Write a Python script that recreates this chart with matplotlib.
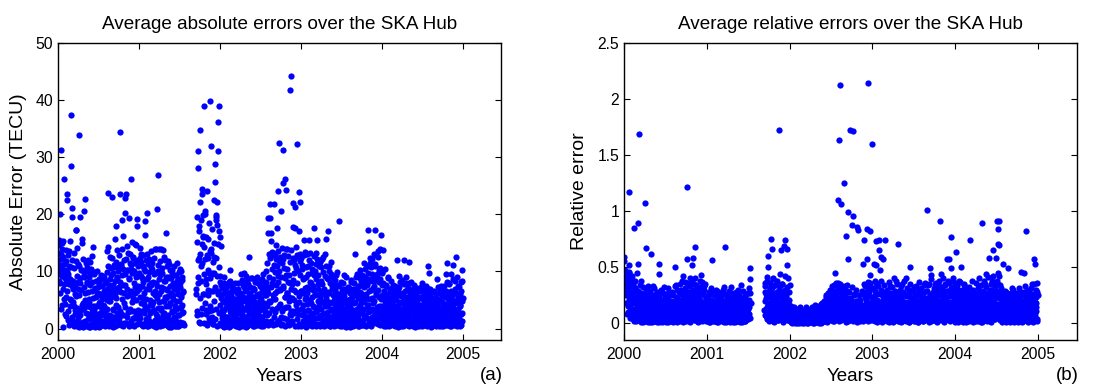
import numpy as np
import matplotlib
matplotlib.use("Agg")
import matplotlib.pyplot as plt

NAN = float("nan")

# ---- data: daily values; *_even = even days (0,2,4,...), *_odd = odd days (1,3,5,...) ----
years = [2000, 2001, 2002, 2003, 2004]

abs_2000_even = [
    13.2, 11.0, 8.4, 15.5, 10.6, 20.0, 12.1, 31.3, 9.2, 4.1, 14.0, 0.3, 15.4, 26.2, 7.8,
    10.2, 2.5, 8.0, 5.6, 11.8, 23.6, 22.5, 3.0, 9.6, 13.5, 0.6, 5.2, 15.4, 8.3, 37.3,
    28.5, 21.1, 19.6, 1.4, 6.9, 13.2, 4.0, 0.9, 7.4, 2.6, 17.3, 17.2, 3.6, 14.1, 8.1,
    1.8, 11.3, 33.9, 0.2, 19.6, 7.9, 3.2, 0.5, 10.2, 15.7, 15.0, 4.5, 1.1, 9.0, 20.5,
    22.7, 6.3, 11.5, 0.4, 2.8, 10.8, 8.2, 1.6, 12.0, 5.1, 0.3, 9.5, 3.7, 11.6, 2.2,
    0.8, 6.6, 12.7, 14.3, 4.0, 1.2, 9.9, 3.3, 0.4, 7.1, 5.5, 2.0, 10.0, 0.6, 3.9,
    6.2, 1.5, 8.7, 0.3, 4.6, 2.7, 9.3, 0.8, 5.8, 3.0, 7.4, 1.0, 4.2, 9.1, 2.3,
    0.5, 6.0, 3.5, 8.3, 1.7, 5.0, 13.6, 23.7, 14.2, 2.4, 7.7, 0.9, 12.5, 4.8, 10.6,
    1.9, 6.8, 23.0, 3.4, 9.8, 0.3, 11.2, 7.0, 2.1, 15.6, 5.3, 17.9, 0.7, 8.9, 13.8,
    3.8, 10.9, 1.3, 7.3, 34.4, 23.5, 6.4, 11.0, 2.6, 19.0, 9.4, 0.4, 16.2, 4.4, 12.0,
    7.6, 20.2, 22.8, 1.0, 23.5, 10.3, 5.7, 13.2, 2.9, 19.3, 8.6, 0.6, 11.5, 6.1, 26.1,
    3.1, 9.7, 15.1, 1.8, 12.4, 5.4, 10.1, 0.5, 14.8, 7.2, 2.4, 9.0, 18.0, 6.5, 19.2,
    3.3, 11.0, 1.2,
]
abs_2000_odd = [
    12.0, 9.5, 14.6, 6.3, 11.2, 8.0, 13.0, 3.5, 10.4, 15.0, 7.0, 12.5, 5.2, 9.8, 11.3,
    4.3, 8.9, 13.7, 2.2, 10.0, 6.5, 9.1, 12.8, 1.5, 7.8, 11.0, 3.9, 8.6, 5.0, 10.8,
    7.5, 2.0, 12.0, 4.6, 8.3, 0.5, 10.6, 3.3, 6.1, 11.8, 1.2, 5.7, 9.2, 0.4, 7.0,
    3.0, 11.0, 5.9, 0.9, 8.8, 2.4, 10.3, 6.7, 1.0, 4.1, 12.2, 0.3, 7.3, 3.6, 9.4,
    5.0, 1.3, 10.1, 3.9, 8.0, 0.6, 6.4, 11.9, 2.6, 9.0, 4.7, 0.2, 7.7, 1.8, 10.4,
    2.9, 8.1, 0.5, 5.4, 3.2, 9.6, 1.1, 6.8, 4.0, 0.3, 8.4, 2.5, 5.9, 1.4, 7.2,
    0.9, 4.4, 7.9, 2.1, 6.0, 0.4, 3.8, 8.6, 1.3, 5.1, 2.6, 9.2, 0.7, 6.6, 4.0,
    8.0, 2.7, 5.6, 0.6, 9.9, 3.5, 7.0, 1.6, 11.0, 4.9, 0.4, 8.7, 6.2, 2.2, 9.4,
    5.5, 12.3, 0.8, 7.6, 3.2, 10.7, 1.5, 8.3, 6.0, 0.5, 11.6, 4.1, 9.0, 2.7, 7.1,
    10.0, 1.8, 6.5, 12.9, 3.0, 8.1, 0.6, 11.3, 5.2, 14.0, 2.3, 7.7, 10.5, 1.0, 6.3,
    9.6, 3.7, 12.1, 0.9, 7.0, 14.5, 2.0, 10.2, 5.8, 0.5, 8.9, 13.0, 3.4, 11.1, 6.6,
    1.4, 10.3, 4.6, 12.6, 0.7, 8.0, 3.0, 11.5, 6.3, 1.9, 14.7, 5.0, 9.2, 0.8, 12.0,
    7.4, 2.6,
]

abs_2001_even = [
    9.8, 2.0, 14.1, 5.6, 0.8, 11.7, 7.4, 3.0, 12.8, 0.5, 8.2, 4.3, 10.5, 16.4, 18.8,
    1.7, 6.9, 13.0, 20.2, 3.5, 9.1, 0.4, 7.6, 12.2, 2.8, 5.0, 10.7, 1.1, 8.0, 4.1,
    11.4, 0.7, 6.3, 3.2, 9.5, 1.5, 13.9, 5.8, 0.3, 7.9, 20.9, 2.2, 10.1, 26.8, 4.6,
    14.0, 8.7, 1.0, 11.9, 3.6, 6.5, 0.6, 9.7, 13.8, 2.5, 7.1, 4.9, 12.6, 0.9, 8.4,
    5.3, 16.7, 2.0, 10.9, 6.7, 0.4, 9.0, 3.9, 11.3, 1.4, 7.4, 4.4, 0.2, 8.8, 2.9,
    10.2, 5.9, 0.8, 6.9, 3.1, 9.4, 1.7, 7.8, 0.5, 4.8, 8.3, 11.5, 2.3, 6.1, 0.4,
    9.9, 3.6, 7.2, 1.2, 5.5, 10.0, 2.7, 8.5, 4.2, 0.9, 6.4,
] + [NAN] * 28 + [
    6.0, 3.0, 19.5, 8.0, 28.1, 31.0,
    17.9, 12.3, 34.8, 22.1, 2.5, 10.9, 24.4, 23.5, 14.8, 19.9, 16.0, 39.0, 6.1, 20.5, 12.2,
    3.3, 16.0, 8.6, 24.0, 0.9, 12.4, 6.7, 1.8, 9.7, 3.9, 13.6, 39.8, 31.9, 13.9, 9.5,
    3.3, 6.6, 0.8, 12.6, 9.8, 22.5, 28.8, 25.7, 19.5, 19.0, 18.2, 22.2, 6.5, 36.2, 31.0,
    39.0, 17.1, 16.1,
]
abs_2001_odd = [
    7.0, 12.3, 1.9, 9.2, 4.5, 13.1, 0.6, 8.8, 5.4, 11.0, 2.7, 6.3, 0.9, 10.0, 3.8,
    12.0, 5.1, 0.4, 8.6, 2.0, 11.3, 6.9, 1.3, 9.9, 4.2, 0.7, 7.7, 13.5, 3.1, 10.4,
    1.0, 8.2, 4.7, 12.4, 0.5, 6.6, 9.8, 2.5, 14.0, 5.3, 0.8, 7.4, 3.6, 11.1, 1.9,
    6.0, 0.4, 9.4, 3.3, 13.9, 7.2, 1.6, 10.6, 4.9, 0.6, 8.3, 2.8, 12.0, 5.6, 1.2,
    9.1, 3.9, 0.7, 7.0, 11.8, 2.3, 5.7, 0.3, 8.9, 4.5, 10.3, 1.5, 6.2, 3.0, 9.6,
    0.8, 5.2, 8.0, 2.1, 11.0, 4.0, 0.5, 7.5, 3.4, 9.3, 1.1, 6.7, 0.4, 8.6, 4.8,
    2.4, 7.9, 0.6, 10.4, 3.7, 5.9, 1.0, 9.1, 2.9, 6.5, 0.7,
] + [NAN] * 28 + [
    7.0, 15.2, 2.3, 12.0, 9.1, 1.2, 17.0, 5.3, 13.0, 0.9, 8.4, 19.0, 3.6, 11.5, 6.0,
    16.2, 1.0, 9.6, 14.3, 4.4, 20.1, 7.8, 2.5, 12.9, 0.6, 10.3, 15.6, 5.8, 3.0, 18.4,
    8.9, 1.4, 13.2, 6.6, 17.5, 2.0, 9.8, 0.8, 11.7, 4.9, 15.0, 7.3, 1.6, 12.4, 19.8,
    3.4, 9.2, 0.5, 14.8, 6.0, 10.7, 2.8, 8.1,
]

abs_2002_even = [
    9.2, 1.0, 5.4, 14.4, 2.6, 7.1, 0.4, 4.8, 9.0, 3.2, 1.5, 6.3, 0.8, 5.0, 2.1,
    7.4, 0.5, 3.8, 6.0, 1.3, 4.6, 0.3, 8.3, 10.3, 2.7, 5.6, 0.9, 3.5, 6.8, 1.9,
    4.2, 0.6, 7.0, 2.4, 5.2, 1.1, 3.0, 6.5, 0.4, 4.5, 8.0, 1.6, 2.9, 5.8, 0.7,
    3.7, 6.2, 1.4, 9.6, 2.2, 4.9, 0.5, 7.6, 3.3, 1.0, 9.8, 5.3, 2.0, 0.3, 6.7,
    3.9, 1.7, 8.4, 4.0, 0.6, 5.9, 12.6, 2.5, 7.2, 0.9, 4.4, 2.8, 8.8, 1.2, 5.5,
    3.1, 0.4, 6.9, 2.3, 4.7, 8.1, 1.5, 5.7, 0.8, 3.4, 7.9, 2.6, 6.0, 1.0, 4.3,
    7.5, 0.6, 3.6, 5.1, 2.0, 8.6, 1.3, 6.4, 0.5, 4.1, 7.0, 3.0, 1.1, 10.0, 5.8,
    2.4, 6.6, 0.9, 16.7, 19.3, 4.9, 7.3, 21.8, 19.3, 16.7, 15.3, 1.4, 13.4, 8.0, 5.2,
    0.7, 11.1, 21.8, 6.2, 13.0, 2.9, 12.2, 7.7, 1.2, 17.6, 24.0, 9.2, 4.0, 11.8, 32.5,
    6.8, 12.6, 20.5, 2.1, 11.4, 0.8, 31.2, 25.5, 7.1, 3.6, 12.8, 5.5, 26.2, 9.4, 24.2,
    1.6, 6.3, 14.0, 3.8, 8.1, 0.9, 5.6, 2.5, 41.8, 6.9, 3.0, 44.2, 7.8, 1.4, 22.0,
    17.8, 5.0, 12.0, 17.6, 21.3, 2.7, 10.6, 6.4, 3.2, 32.3, 12.5, 0.4, 23.9, 17.0, 4.6,
    11.9, 22.2, 6.6,
]
abs_2002_odd = [
    4.1, 7.6, 0.7, 3.3, 6.1, 1.8, 5.0, 2.4, 8.0, 0.3, 4.7, 6.9, 1.2, 3.8, 7.2,
    2.0, 5.5, 0.6, 4.3, 8.2, 1.5, 6.4, 3.1, 0.4, 5.9, 2.6, 7.4, 1.0, 4.9, 3.4,
    6.7, 0.9, 5.1, 2.2, 7.9, 3.6, 0.5, 6.2, 1.7, 4.4, 2.8, 7.0, 0.3, 5.4, 3.0,
    1.3, 6.0, 4.0, 0.6, 8.5, 2.5, 5.6, 1.9, 7.3, 3.5, 0.8, 4.8, 6.6, 2.1, 9.2,
    0.5, 5.0, 3.2, 7.8, 1.4, 4.6, 2.7, 0.9, 6.3, 3.9, 8.9, 1.6, 5.2, 0.4, 7.1,
    2.9, 6.8, 1.1, 4.1, 8.7, 0.6, 3.7, 5.8, 2.3, 9.0, 0.7, 4.5, 6.1, 1.8, 3.3,
    5.3, 2.0, 8.3, 0.5, 6.9, 3.8, 1.4, 9.5, 4.4, 0.8, 7.6, 2.6, 5.9, 1.3, 8.1,
    3.9, 11.5, 0.6, 6.3, 13.0, 2.8, 9.1, 4.7, 12.4, 0.9, 7.2, 10.5, 3.4, 5.8, 13.3,
    8.6, 2.0, 12.8, 5.1, 9.9, 0.8, 14.6, 6.5, 11.0, 3.6, 8.2, 13.5, 1.5, 10.1, 6.9,
    4.3, 11.9, 0.7, 9.0, 14.1, 3.0, 7.5, 12.2, 1.9, 10.6, 5.5, 0.5, 8.8, 13.9, 3.7,
    10.4, 6.2, 1.1, 12.7, 4.8, 9.3, 0.6, 7.9, 11.6, 2.4, 13.8, 5.4, 0.9, 8.5, 12.3,
    3.1, 9.7, 6.8, 0.4, 11.2, 4.2, 14.3, 1.7, 8.0, 12.9, 2.6, 10.0, 5.7, 0.8, 9.4,
    13.1, 3.5,
]

abs_2003_even = [
    0.5, 12.4, 3.5, 10.5, 6.2, 1.3, 15.5, 8.8, 2.2, 13.4, 5.1, 0.3, 9.0, 4.3, 7.2,
    1.6, 11.0, 15.5, 3.0, 6.9, 0.8, 13.3, 8.0, 2.5, 10.4, 5.6, 0.6, 7.4, 4.0, 17.6,
    9.3, 1.8, 6.0, 11.3, 2.9, 13.3, 15.5, 0.7, 7.8, 4.8, 10.9, 2.0, 5.3, 11.6, 0.4,
    8.4, 3.4, 6.6, 12.1, 1.5, 9.9, 4.6, 0.9, 7.0, 2.7, 13.1, 5.8, 15.7, 1.2, 3.9,
    17.1, 8.6, 2.1, 6.3, 11.0, 0.5, 4.5, 9.6, 1.9, 7.5, 3.2, 0.8, 5.9, 8.9, 2.6,
    0.4, 6.8, 3.8, 1.4, 9.4, 5.2, 0.6, 3.1, 7.7, 2.0, 18.9, 4.7, 0.9, 6.1, 2.8,
    5.4, 1.2, 3.6, 0.5, 7.0, 2.3, 4.9, 0.8, 9.4, 3.3, 1.6, 6.5, 0.3, 4.1, 2.5,
    7.3, 0.7, 5.0, 2.9, 1.1, 6.2, 3.7, 0.4, 8.2, 2.0, 5.6, 1.3, 7.0, 3.0, 0.6,
    4.4, 13.1, 2.2, 6.9, 0.9, 9.0, 3.5, 5.8, 1.5, 7.4, 2.7, 0.5, 10.2, 4.2, 6.4,
    1.0, 8.3, 3.1, 5.3, 0.7, 7.9, 2.4, 11.5, 4.6, 1.8, 9.1, 6.0, 0.4, 3.7, 7.6,
    17.3, 2.9, 8.7, 15.1, 5.1, 1.2, 11.4, 6.7, 0.6, 9.5, 3.4, 12.2, 7.1, 2.0, 8.4,
    4.9, 17.3, 10.9, 1.5, 6.3, 12.9, 3.0, 9.0, 0.8, 13.6, 5.5, 8.1, 2.3, 10.6, 13.9,
    4.0, 16.3, 7.7,
]
abs_2003_odd = [
    6.6, 2.3, 11.1, 4.1, 0.6, 8.7, 12.9, 3.0, 7.1, 1.0, 10.8, 5.5, 2.0, 13.0, 6.2,
    9.5, 3.3, 0.7, 12.0, 5.0, 8.2, 1.6, 11.4, 4.5, 0.4, 9.8, 6.7, 2.8, 12.7, 3.8,
    1.2, 10.0, 5.9, 0.5, 8.6, 3.2, 12.2, 7.0, 1.9, 9.3, 4.1, 0.8, 11.8, 6.0, 2.4,
    10.7, 4.6, 1.0, 7.8, 12.5, 2.6, 6.1, 0.5, 9.2, 3.9, 11.0, 1.7, 5.4, 8.8, 0.7,
    6.4, 2.9, 10.1, 4.7, 0.4, 8.0, 1.8, 11.6, 3.5, 6.9, 0.9, 9.1, 2.2, 5.0, 7.7,
    1.5, 4.3, 8.5, 0.6, 6.2, 2.7, 9.9, 3.6, 0.8, 5.3, 1.9, 7.4, 4.0, 0.5, 8.1,
    3.0, 6.6, 0.7, 4.5, 2.0, 8.0, 1.1, 5.7, 3.4, 0.4, 6.9, 2.5, 9.0, 1.3, 4.8,
    0.6, 3.9, 7.1, 1.6, 5.2, 0.3, 4.4, 2.6, 8.5, 1.0, 6.3, 3.3, 0.5, 5.8, 2.1,
    7.9, 1.4, 4.6, 0.8, 6.5, 3.1, 9.6, 2.0, 5.4, 0.4, 7.5, 3.8, 1.2, 8.8, 4.9,
    2.7, 6.0, 0.6, 9.3, 3.5, 1.5, 7.2, 4.8, 10.4, 2.2, 0.7, 8.1, 5.6, 1.8, 11.0,
    4.2, 9.7, 1.0, 6.6, 12.4, 3.1, 8.3, 0.5, 10.8, 5.3, 2.0, 9.1, 4.5, 13.0, 1.3,
    7.4, 2.5, 11.3, 5.9, 0.9, 9.6, 3.8, 12.6, 6.8, 1.6, 10.2, 4.0, 0.6, 8.7, 5.1,
    2.1, 9.9,
]

abs_2004_even = [
    3.1, 9.7, 13.8, 1.2, 5.6, 0.5, 10.5, 4.3, 2.0, 7.4, 0.8, 6.0, 3.5, 1.6, 8.8,
    2.7, 5.1, 0.4, 7.0, 3.8, 1.1, 6.4, 2.2, 4.6, 0.6, 7.6, 3.0, 1.4, 5.3, 0.9,
    4.0, 2.5, 6.8, 1.0, 12.0, 3.4, 0.3, 5.8, 2.1, 7.2, 4.4, 0.7, 3.1, 6.1, 1.8,
    8.5, 2.8, 4.9, 0.5, 12.0, 3.6, 1.3, 6.6, 2.4, 8.0, 0.9, 4.1, 5.5, 1.7, 3.2,
    7.9, 11.6, 0.6, 4.7, 2.3, 6.2, 1.0, 3.7, 5.0, 0.4, 2.9, 7.0, 1.5, 4.3, 6.5,
    0.8, 3.3, 5.9, 2.0, 0.5, 4.6, 6.9, 1.2, 3.0, 5.4, 0.7, 2.6, 4.0, 7.3, 1.6,
    3.6, 0.4, 5.7, 2.2, 4.8, 1.1, 3.4, 6.4, 0.6, 2.7, 5.0, 1.5, 7.1, 3.9, 10.9,
    9.8, 0.9, 4.2, 2.1, 6.0, 0.3, 3.5, 5.2, 1.4, 2.4, 4.5, 0.7, 6.6, 3.0, 1.8,
    5.3, 0.5, 2.8, 4.0, 8.6, 1.0, 3.7, 6.2, 0.8, 2.2, 5.0, 1.6, 3.3, 0.4, 7.5,
    2.5, 4.6, 0.9, 6.8, 1.9, 3.8, 0.6, 5.6, 2.9, 9.6, 1.3, 11.5, 4.1, 0.7, 6.0,
    3.0, 1.5, 8.0, 4.8, 0.5, 2.6, 9.5, 5.7, 1.1, 11.2, 3.6, 0.8, 6.3, 2.0, 4.4,
    8.3, 12.5, 1.7, 5.0, 0.4, 3.2, 7.4, 2.4, 4.7, 0.9, 6.1, 1.4, 3.9, 8.2, 0.6,
    10.2, 2.8, 5.3,
]
abs_2004_odd = [
    5.8, 1.9, 8.0, 3.6, 0.7, 6.6, 2.8, 4.9, 0.4, 7.7, 3.1, 1.5, 5.5, 9.0, 2.3,
    0.6, 4.4, 6.9, 1.8, 3.3, 8.4, 0.9, 5.6, 2.6, 7.1, 1.2, 4.0, 6.3, 0.5, 3.0,
    7.5, 1.6, 5.0, 2.9, 0.8, 6.7, 3.8, 9.2, 1.0, 4.6, 2.2, 8.1, 0.4, 5.7, 3.5,
    1.1, 6.3, 2.7, 4.4, 0.6, 7.8, 3.0, 5.3, 1.5, 9.0, 2.0, 6.8, 0.7, 4.7, 7.2,
    2.5, 0.5, 5.9, 3.4, 8.2, 1.3, 4.6, 6.6, 0.8, 3.1, 5.4, 1.9, 7.6, 0.3, 4.1,
    6.0, 2.2, 4.9, 0.9, 7.1, 3.6, 1.4, 5.6, 2.8, 0.5, 6.5, 4.2, 1.0, 3.7, 8.0,
    1.7, 5.1, 0.6, 3.2, 6.7, 2.4, 4.5, 0.8, 7.4, 1.9, 3.9, 5.9, 0.4, 2.7, 6.2,
    4.8, 1.2, 3.4, 7.0, 0.5, 5.3, 2.2, 4.1, 0.9, 6.4, 3.0, 1.6, 5.0, 0.6, 3.7,
    2.0, 6.1, 0.7, 4.4, 1.3, 7.2, 2.9, 0.4, 5.2, 3.5, 1.0, 6.9, 2.4, 4.7, 0.8,
    5.9, 1.9, 3.8, 0.5, 7.4, 2.7, 4.3, 1.1, 6.5, 3.3, 0.7, 8.1, 2.1, 5.1, 0.9,
    3.6, 7.8, 1.4, 5.0, 2.6, 0.5, 6.6, 3.9, 1.7, 8.6, 4.8, 0.6, 2.8, 7.0, 1.2,
    4.5, 0.7, 6.2, 2.3, 9.1, 3.4, 0.9, 5.5, 1.8, 7.3, 0.4, 4.2, 6.6, 2.6, 8.4,
    1.3, 4.9,
]

rel_2000_even = [
    0.55, 0.59, 0.38, 0.44, 0.25, 0.35, 0.08, 0.42, 0.30, 0.15, 0.46, 0.52, 1.17, 0.22, 0.05,
    0.33, 0.40, 0.12, 0.28, 0.18, 0.36, 0.845, 0.02, 0.23, 0.10, 0.31, 0.06, 0.20, 0.14, 0.45,
    0.53, 0.89, 1.69, 0.09, 0.22, 0.03, 0.16, 0.38, 0.07, 0.25, 0.12, 0.01, 0.19, 0.05, 0.13,
    0.21, 1.075, 0.04, 0.17, 0.667, 0.10, 0.02, 0.33, 0.14, 0.06, 0.27, 0.09, 0.01, 0.20, 0.08,
    0.616, 0.12, 0.03, 0.25, 0.07, 0.15, 0.31, 0.02, 0.11, 0.19, 0.05, 0.26, 0.09, 0.01, 0.14,
    0.06, 0.22, 0.53, 0.44, 0.03, 0.17, 0.29, 0.08, 0.12, 0.01, 0.20, 0.05, 0.15, 0.32, 0.04,
    0.10, 0.24, 0.02, 0.18, 0.07, 0.13, 0.01, 0.21, 0.09, 0.28, 0.04, 0.16, 0.06, 0.11, 0.02,
    0.19, 0.08, 0.14, 0.03, 0.25, 0.12, 0.05, 0.50, 0.17, 0.09, 0.34, 0.01, 0.22, 0.07, 0.15,
    0.04, 0.28, 0.11, 0.18, 0.02, 0.30, 0.08, 0.20, 0.13, 0.06, 0.24, 0.42, 0.03, 0.16, 0.37,
    0.10, 0.27, 0.05, 0.19, 1.21, 0.57, 0.14, 0.33, 0.02, 0.23, 0.09, 0.40, 0.17, 0.06, 0.29,
    0.12, 0.52, 0.21, 0.58, 0.04, 0.35, 0.68, 0.15, 0.25, 0.08, 0.31, 0.02, 0.19, 0.11, 0.26,
    0.06, 0.22, 0.14, 0.38, 0.03, 0.43, 0.18, 0.09, 0.27, 0.05, 0.16, 0.33, 0.07, 0.24, 0.12,
    0.02, 0.20, 0.08,
]
rel_2000_odd = [
    0.40, 0.28, 0.47, 0.33, 0.18, 0.43, 0.25, 0.37, 0.10, 0.31, 0.21, 0.45, 0.14, 0.39, 0.27,
    0.09, 0.35, 0.19, 0.42, 0.04, 0.26, 0.32, 0.13, 0.38, 0.07, 0.22, 0.30, 0.02, 0.17, 0.24,
    0.11, 0.29, 0.03, 0.20, 0.34, 0.06, 0.15, 0.27, 0.01, 0.23, 0.10, 0.32, 0.04, 0.18, 0.08,
    0.26, 0.02, 0.16, 0.30, 0.07, 0.21, 0.11, 0.01, 0.24, 0.13, 0.05, 0.19, 0.29, 0.03, 0.15,
    0.09, 0.22, 0.01, 0.17, 0.33, 0.06, 0.12, 0.25, 0.02, 0.20, 0.10, 0.04, 0.28, 0.14, 0.07,
    0.18, 0.01, 0.24, 0.11, 0.05, 0.30, 0.15, 0.02, 0.21, 0.08, 0.27, 0.13, 0.03, 0.19, 0.10,
    0.04, 0.16, 0.26, 0.01, 0.12, 0.22, 0.07, 0.31, 0.03, 0.17, 0.09, 0.25, 0.02, 0.14, 0.20,
    0.06, 0.28, 0.11, 0.01, 0.19, 0.08, 0.33, 0.14, 0.04, 0.23, 0.10, 0.02, 0.30, 0.16, 0.05,
    0.21, 0.12, 0.35, 0.03, 0.17, 0.26, 0.07, 0.38, 0.10, 0.01, 0.29, 0.14, 0.22, 0.05, 0.31,
    0.18, 0.02, 0.24, 0.36, 0.08, 0.13, 0.28, 0.04, 0.20, 0.33, 0.11, 0.01, 0.25, 0.15, 0.37,
    0.07, 0.30, 0.16, 0.03, 0.22, 0.40, 0.10, 0.27, 0.05, 0.34, 0.13, 0.19, 0.01, 0.29, 0.09,
    0.24, 0.04, 0.32, 0.15, 0.20, 0.08, 0.37, 0.02, 0.26, 0.11, 0.30, 0.05, 0.17, 0.35, 0.10,
    0.03, 0.23,
]

rel_2001_even = [
    0.15, 0.04, 0.22, 0.09, 0.01, 0.18, 0.06, 0.12, 0.26, 0.03, 0.31, 0.56, 0.10, 0.20, 0.07,
    0.14, 0.02, 0.25, 0.08, 0.17, 0.30, 0.05, 0.11, 0.21, 0.01, 0.15, 0.06, 0.24, 0.09, 0.13,
    0.03, 0.19, 0.07, 0.28, 0.11, 0.02, 0.16, 0.32, 0.05, 0.20, 0.675, 0.08, 0.13, 0.01, 0.23,
    0.10, 0.04, 0.18, 0.29, 0.07, 0.14, 0.02, 0.22, 0.09, 0.32, 0.05, 0.16, 0.12, 0.01, 0.26,
    0.08, 0.19, 0.03, 0.13, 0.24, 0.06, 0.11, 0.02, 0.17, 0.30, 0.04, 0.15, 0.09, 0.21, 0.01,
    0.12, 0.34, 0.05, 0.18, 0.07, 0.22, 0.03, 0.14, 0.10, 0.25, 0.02, 0.16, 0.06, 0.19, 0.11,
    0.04, 0.27, 0.13, 0.08, 0.21, 0.49, 0.39,
] + [NAN] * 30 + [
    0.12, 0.28, 0.36, 0.06, 0.22, 0.14, 0.38, 0.09,
    0.50, 0.60, 0.25, 0.05, 0.31, 0.18, 0.10, 0.75, 0.66, 0.27, 0.02, 0.39, 0.15, 0.08, 0.22,
    0.34, 0.12, 0.03, 0.20, 0.28, 0.07, 0.16, 0.03, 0.11, 0.25, 1.72, 0.09, 0.33, 0.18, 0.65,
    0.06, 0.14, 0.35, 0.02, 0.23, 0.69, 0.10, 0.74, 0.30, 0.08, 0.17, 0.66, 0.52, 0.12, 0.04,
    0.40, 0.21, 0.07,
]
rel_2001_odd = [
    0.09, 0.24, 0.03, 0.17, 0.28, 0.06, 0.13, 0.01, 0.21, 0.11, 0.04, 0.19, 0.27, 0.08, 0.15,
    0.02, 0.20, 0.10, 0.26, 0.05, 0.14, 0.01, 0.18, 0.29, 0.07, 0.12, 0.22, 0.03, 0.16, 0.25,
    0.06, 0.11, 0.23, 0.02, 0.15, 0.30, 0.08, 0.01, 0.19, 0.12, 0.26, 0.04, 0.17, 0.09, 0.21,
    0.03, 0.14, 0.25, 0.07, 0.18, 0.01, 0.11, 0.23, 0.05, 0.16, 0.27, 0.02, 0.20, 0.10, 0.06,
    0.17, 0.01, 0.13, 0.22, 0.04, 0.28, 0.09, 0.15, 0.02, 0.19, 0.07, 0.25, 0.12, 0.03, 0.18,
    0.08, 0.21, 0.01, 0.14, 0.29, 0.05, 0.17, 0.10, 0.02, 0.23, 0.13, 0.06, 0.26, 0.04, 0.16,
    0.20, 0.09, 0.31, 0.14, 0.05, 0.27, 0.18,
] + [NAN] * 30 + [
    0.20, 0.07, 0.33, 0.13, 0.26, 0.04, 0.41, 0.17, 0.09, 0.29, 0.02, 0.23, 0.36, 0.11, 0.19,
    0.05, 0.31, 0.14, 0.40, 0.08, 0.25, 0.01, 0.18, 0.34, 0.12, 0.27, 0.06, 0.38, 0.15, 0.03,
    0.22, 0.30, 0.10, 0.44, 0.16, 0.04, 0.26, 0.13, 0.35, 0.07, 0.21, 0.01, 0.29, 0.11, 0.42,
    0.18, 0.06, 0.24, 0.14, 0.32, 0.03, 0.20, 0.09, 0.28, 0.16,
]

rel_2002_even = [
    0.34, 0.10, 0.02, 0.15, 0.06, 0.01, 0.12, 0.04, 0.08, 0.02, 0.14, 0.05, 0.00, 0.09, 0.03,
    0.11, 0.01, 0.06, 0.13, 0.03, 0.08, 0.00, 0.05, 0.10, 0.02, 0.07, 0.12, 0.01, 0.04, 0.09,
    0.03, 0.06, 0.00, 0.11, 0.05, 0.02, 0.08, 0.14, 0.01, 0.04, 0.07, 0.00, 0.10, 0.03, 0.06,
    0.02, 0.09, 0.13, 0.04, 0.01, 0.07, 0.11, 0.03, 0.05, 0.00, 0.08, 0.16, 0.02, 0.06, 0.10,
    0.04, 0.01, 0.12, 0.07, 0.03, 0.09, 0.15, 0.02, 0.05, 0.11, 0.00, 0.08, 0.18, 0.04, 0.06,
    0.13, 0.02, 0.20, 0.07, 0.10, 0.04, 0.25, 0.09, 0.01, 0.15, 0.06, 0.22, 0.03, 0.12, 0.18,
    0.08, 0.30, 0.05, 0.14, 0.26, 0.02, 0.19, 0.34, 0.10, 0.06, 0.45, 0.23, 0.12, 0.04, 0.28,
    0.16, 0.36, 1.10, 0.09, 0.21, 1.63, 2.12, 0.31, 1.06, 0.03, 0.18, 0.27, 0.12, 0.07, 0.24,
    1.25, 0.14, 0.33, 0.05, 0.78, 0.20, 0.10, 0.29, 0.02, 0.57, 0.99, 0.16, 0.08, 1.72, 0.22,
    0.13, 0.04, 0.875, 0.19, 0.11, 1.71, 0.955, 0.25, 0.06, 0.17, 0.09, 0.14, 0.03, 0.86, 0.20,
    0.83, 0.07, 0.12, 0.05, 0.18, 0.10, 0.03, 0.08, 0.15, 0.06, 0.11, 0.02, 0.26, 0.53, 0.74,
    0.09, 0.33, 0.16, 0.04, 0.21, 0.57, 0.84, 0.12, 0.37, 2.14, 0.28, 0.07, 0.82, 0.43, 0.18,
    0.05, 1.595, 0.31,
]
rel_2002_odd = [
    0.05, 0.12, 0.01, 0.08, 0.03, 0.10, 0.00, 0.06, 0.13, 0.02, 0.07, 0.04, 0.11, 0.01, 0.09,
    0.03, 0.07, 0.00, 0.12, 0.05, 0.02, 0.09, 0.04, 0.14, 0.01, 0.06, 0.10, 0.03, 0.00, 0.08,
    0.11, 0.02, 0.05, 0.09, 0.01, 0.13, 0.04, 0.07, 0.00, 0.10, 0.03, 0.06, 0.12, 0.02, 0.08,
    0.04, 0.11, 0.01, 0.07, 0.14, 0.03, 0.09, 0.00, 0.05, 0.12, 0.02, 0.08, 0.04, 0.15, 0.01,
    0.09, 0.03, 0.06, 0.13, 0.00, 0.10, 0.05, 0.02, 0.17, 0.07, 0.04, 0.12, 0.01, 0.09, 0.14,
    0.06, 0.19, 0.03, 0.11, 0.08, 0.23, 0.02, 0.16, 0.05, 0.27, 0.12, 0.04, 0.20, 0.09, 0.30,
    0.15, 0.03, 0.22, 0.11, 0.33, 0.07, 0.18, 0.02, 0.29, 0.13, 0.06, 0.24, 0.36, 0.10, 0.19,
    0.05, 0.31, 0.14, 0.22, 0.02, 0.35, 0.10, 0.18, 0.27, 0.06, 0.33, 0.13, 0.21, 0.04, 0.16,
    0.30, 0.09, 0.24, 0.01, 0.19, 0.12, 0.34, 0.06, 0.22, 0.15, 0.03, 0.28, 0.11, 0.18, 0.05,
    0.21, 0.08, 0.15, 0.32, 0.02, 0.17, 0.10, 0.26, 0.04, 0.12, 0.20, 0.07, 0.30, 0.14, 0.01,
    0.18, 0.05, 0.25, 0.11, 0.02, 0.14, 0.21, 0.06, 0.09, 0.29, 0.03, 0.16, 0.12, 0.35, 0.08,
    0.23, 0.04, 0.15, 0.28, 0.10, 0.06, 0.19, 0.31, 0.02, 0.13, 0.24, 0.08, 0.17, 0.36, 0.11,
    0.03, 0.22,
]

rel_2003_even = [
    0.10, 0.22, 0.03, 0.53, 0.14, 0.38, 0.07, 0.19, 0.73, 0.52, 0.01, 0.26, 0.12, 0.04, 0.74,
    0.65, 0.18, 0.47, 0.09, 0.30, 0.59, 0.02, 0.15, 0.23, 0.57, 0.06, 0.12, 0.74, 0.20, 0.03,
    0.28, 0.10, 0.17, 0.04, 0.25, 0.13, 0.01, 0.21, 0.08, 0.33, 0.15, 0.05, 0.19, 0.11, 0.02,
    0.24, 0.07, 0.40, 0.14, 0.03, 0.18, 0.09, 0.27, 0.38, 0.05, 0.12, 0.20, 0.71, 0.02, 0.16,
    0.08, 0.30, 0.11, 0.01, 0.22, 0.06, 0.35, 0.14, 0.03, 0.19, 0.09, 0.26, 0.04, 0.13, 0.40,
    0.02, 0.17, 0.07, 0.24, 0.10, 0.01, 0.29, 0.15, 0.05, 0.50, 0.12, 0.20, 0.03, 0.09, 0.18,
    0.06, 0.23, 0.11, 0.32, 0.02, 0.14, 0.08, 0.19, 0.04, 0.27, 0.12, 0.01, 0.16, 0.30, 0.07,
    0.21, 0.10, 0.03, 0.15, 0.25, 0.06, 0.18, 0.02, 0.12, 0.34, 0.08, 0.20, 0.05, 0.14, 0.29,
    1.01, 0.11, 0.04, 0.22, 0.17, 0.07, 0.35, 0.13, 0.49, 0.43, 0.02, 0.26, 0.09, 0.19, 0.05,
    0.31, 0.12, 0.24, 0.03, 0.16, 0.36, 0.08, 0.21, 0.01, 0.14, 0.28, 0.06, 0.33, 0.18, 0.91,
    0.10, 0.25, 0.44, 0.04, 0.20, 0.13, 0.30, 0.07, 0.17, 0.02, 0.35, 0.11, 0.23, 0.05, 0.57,
    0.15, 0.29, 0.09, 0.38, 0.03, 0.57, 0.19, 0.12, 0.765, 0.49, 0.25, 0.06, 0.40, 0.14, 0.32,
    0.08, 0.21, 0.01,
]
rel_2003_odd = [
    0.17, 0.31, 0.05, 0.24, 0.12, 0.02, 0.29, 0.09, 0.36, 0.15, 0.06, 0.21, 0.33, 0.08, 0.18,
    0.03, 0.26, 0.11, 0.38, 0.07, 0.20, 0.14, 0.01, 0.28, 0.10, 0.34, 0.05, 0.22, 0.16, 0.08,
    0.19, 0.02, 0.30, 0.12, 0.06, 0.24, 0.09, 0.37, 0.15, 0.03, 0.27, 0.11, 0.20, 0.05, 0.32,
    0.13, 0.01, 0.21, 0.08, 0.29, 0.16, 0.04, 0.25, 0.10, 0.35, 0.06, 0.18, 0.02, 0.23, 0.12,
    0.27, 0.05, 0.17, 0.33, 0.09, 0.20, 0.02, 0.14, 0.28, 0.07, 0.38, 0.11, 0.16, 0.03, 0.24,
    0.10, 0.31, 0.06, 0.19, 0.13, 0.01, 0.26, 0.08, 0.35, 0.15, 0.04, 0.22, 0.12, 0.30, 0.06,
    0.17, 0.02, 0.28, 0.10, 0.21, 0.05, 0.33, 0.13, 0.07, 0.25, 0.01, 0.18, 0.37, 0.09, 0.15,
    0.04, 0.23, 0.12, 0.31, 0.06, 0.19, 0.02, 0.27, 0.10, 0.16, 0.36, 0.03, 0.22, 0.13, 0.08,
    0.29, 0.14, 0.05, 0.34, 0.18, 0.01, 0.25, 0.11, 0.20, 0.07, 0.39, 0.15, 0.03, 0.28, 0.12,
    0.06, 0.22, 0.35, 0.09, 0.17, 0.02, 0.30, 0.13, 0.24, 0.04, 0.19, 0.38, 0.10, 0.26, 0.07,
    0.16, 0.32, 0.03, 0.21, 0.12, 0.40, 0.08, 0.27, 0.01, 0.18, 0.34, 0.11, 0.06, 0.23, 0.14,
    0.29, 0.05, 0.19, 0.36, 0.10, 0.24, 0.02, 0.31, 0.15, 0.07, 0.27, 0.12, 0.38, 0.04, 0.20,
    0.13, 0.30,
]

rel_2004_even = [
    0.18, 0.36, 0.05, 0.63, 0.24, 0.10, 0.30, 0.02, 0.15, 0.38, 0.07, 0.21, 0.12, 0.03, 0.50,
    0.27, 0.09, 0.17, 0.01, 0.34, 0.13, 0.06, 0.23, 0.04, 0.19, 0.11, 0.31, 0.02, 0.16, 0.08,
    0.25, 0.05, 0.14, 0.74, 0.20, 0.03, 0.10, 0.28, 0.07, 0.17, 0.01, 0.22, 0.12, 0.04, 0.19,
    0.09, 0.26, 0.02, 0.15, 0.06, 0.21, 0.11, 0.33, 0.40, 0.04, 0.18, 0.08, 0.13, 0.01, 0.89,
    0.24, 0.07, 0.16, 0.03, 0.20, 0.10, 0.35, 0.05, 0.44, 0.14, 0.02, 0.27, 0.09, 0.18, 0.58,
    0.12, 0.30, 0.06, 0.22, 0.01, 0.15, 0.38, 0.09, 0.65, 0.19, 0.04, 0.26, 0.13, 0.33, 0.07,
    0.58, 0.24, 0.36, 0.915, 0.71, 0.84, 0.70, 0.915, 0.42, 0.27, 0.12, 0.31, 0.05, 0.20, 0.09,
    0.16, 0.53, 0.03, 0.23, 0.11, 0.29, 0.07, 0.18, 0.01, 0.13, 0.21, 0.04, 0.49, 0.10, 0.26,
    0.06, 0.15, 0.02, 0.22, 0.09, 0.31, 0.12, 0.04, 0.18, 0.01, 0.25, 0.08, 0.14, 0.03, 0.20,
    0.10, 0.27, 0.05, 0.16, 0.01, 0.21, 0.08, 0.13, 0.03, 0.24, 0.11, 0.46, 0.06, 0.19, 0.02,
    0.15, 0.45, 0.09, 0.28, 0.04, 0.17, 0.12, 0.825, 0.07, 0.22, 0.01, 0.14, 0.30, 0.05, 0.19,
    0.10, 0.26, 0.03, 0.16, 0.35, 0.08, 0.21, 0.01, 0.13, 0.24, 0.57, 0.53, 0.06, 0.18, 0.11,
    0.36, 0.02, 0.25,
]
rel_2004_odd = [
    0.11, 0.28, 0.04, 0.20, 0.33, 0.08, 0.16, 0.01, 0.25, 0.13, 0.37, 0.06, 0.22, 0.10, 0.30,
    0.03, 0.18, 0.27, 0.09, 0.14, 0.35, 0.05, 0.21, 0.12, 0.01, 0.29, 0.16, 0.07, 0.24, 0.11,
    0.32, 0.02, 0.19, 0.08, 0.26, 0.13, 0.38, 0.05, 0.22, 0.10, 0.30, 0.03, 0.17, 0.27, 0.07,
    0.14, 0.36, 0.04, 0.23, 0.11, 0.31, 0.02, 0.19, 0.08, 0.28, 0.15, 0.05, 0.34, 0.12, 0.22,
    0.01, 0.17, 0.29, 0.09, 0.38, 0.06, 0.21, 0.13, 0.32, 0.03, 0.25, 0.10, 0.41, 0.16, 0.07,
    0.27, 0.02, 0.19, 0.35, 0.11, 0.24, 0.05, 0.30, 0.15, 0.42, 0.08, 0.20, 0.33, 0.04, 0.26,
    0.13, 0.38, 0.07, 0.29, 0.17, 0.45, 0.10, 0.22, 0.03, 0.34, 0.14, 0.26, 0.06, 0.19, 0.01,
    0.15, 0.08, 0.23, 0.03, 0.18, 0.11, 0.28, 0.02, 0.20, 0.07, 0.14, 0.25, 0.05, 0.17, 0.09,
    0.22, 0.01, 0.12, 0.27, 0.06, 0.18, 0.09, 0.30, 0.03, 0.15, 0.21, 0.07, 0.26, 0.11, 0.02,
    0.19, 0.13, 0.04, 0.24, 0.09, 0.31, 0.16, 0.02, 0.22, 0.07, 0.28, 0.12, 0.01, 0.18, 0.25,
    0.06, 0.20, 0.11, 0.33, 0.03, 0.16, 0.24, 0.08, 0.29, 0.13, 0.02, 0.21, 0.10, 0.27, 0.05,
    0.17, 0.31, 0.07, 0.22, 0.12, 0.02, 0.26, 0.15, 0.35, 0.05, 0.19, 0.09, 0.30, 0.14, 0.23,
    0.04, 0.28,
]

abs_even = [abs_2000_even, abs_2001_even, abs_2002_even, abs_2003_even, abs_2004_even]
abs_odd = [abs_2000_odd, abs_2001_odd, abs_2002_odd, abs_2003_odd, abs_2004_odd]
rel_even = [rel_2000_even, rel_2001_even, rel_2002_even, rel_2003_even, rel_2004_even]
rel_odd = [rel_2000_odd, rel_2001_odd, rel_2002_odd, rel_2003_odd, rel_2004_odd]

x_ticks = [2000, 2001, 2002, 2003, 2004, 2005]
abs_yticks = [0, 10, 20, 30, 40, 50]
rel_yticks = [0, 0.5, 1, 1.5, 2, 2.5]
rel_yticklabels = ["0", "0.5", "1", "1.5", "2", "2.5"]


def to_xy(series_even, series_odd):
    xs, ys = [], []
    for start, group in ((0.0, series_even), (1.0, series_odd)):
        for yr, vals in zip(years, group):
            v = np.asarray(vals, dtype=float)
            day = start + np.arange(len(v)) * 2.0
            xs.append(yr + day / 365.0)
            ys.append(v)
    return np.concatenate(xs), np.concatenate(ys)


plt.rcParams["font.family"] = ["Liberation Sans", "DejaVu Sans"]

fig = plt.figure(figsize=(11.03, 3.88), dpi=100)
ax1 = fig.add_axes([58 / 1103, 48 / 388, 443 / 1103, 297.3 / 388])
ax2 = fig.add_axes([624 / 1103, 48 / 388, 452.7 / 1103, 297.3 / 388])

blue = (0, 0, 1)


def style(ax):
    ax.tick_params(direction="in", top=True, right=True, length=4.5, width=0.8,
                   labelsize=11.3, colors="black")
    ax.tick_params(axis="x", pad=5)
    for sp in ax.spines.values():
        sp.set_linewidth(1.0)
        sp.set_color("black")


x, y = to_xy(abs_even, abs_odd)
ax1.plot(x, y, "o", color=blue, markersize=4.5, markeredgewidth=0)
ax1.set_xlim(2000, 2005.47)
ax1.set_ylim(-2, 50)
ax1.set_xticks(x_ticks)
ax1.set_yticks(abs_yticks)
style(ax1)
ax1.set_title("Average absolute errors over the SKA Hub", fontsize=13.6, pad=10)
ax1.set_xlabel("Years", fontsize=13.5)
ax1.xaxis.set_label_coords(0.5, -0.124)
ax1.xaxis.label.set_va("center")
ax1.set_ylabel("Absolute Error (TECU)", fontsize=14)
ax1.yaxis.set_label_coords(-0.089, 0.5)
ax1.yaxis.label.set_va("center")
ax1.text(1.005, -0.121, "(a)", transform=ax1.transAxes, ha="right", va="center",
         fontsize=13.5)

x, y = to_xy(rel_even, rel_odd)
ax2.plot(x, y, "o", color=blue, markersize=4.5, markeredgewidth=0)
ax2.set_xlim(2000, 2005.47)
ax2.set_ylim(-0.15, 2.5)
ax2.set_xticks(x_ticks)
ax2.set_yticks(rel_yticks)
ax2.set_yticklabels(rel_yticklabels)
style(ax2)
ax2.set_title("Average relative errors over the SKA Hub", fontsize=13.6, pad=10)
ax2.set_xlabel("Years", fontsize=13.5)
ax2.xaxis.set_label_coords(0.5, -0.124)
ax2.xaxis.label.set_va("center")
ax2.set_ylabel("Relative error", fontsize=14)
ax2.yaxis.set_label_coords(-0.0987, 0.5)
ax2.yaxis.label.set_va("center")
ax2.text(1.005, -0.121, "(b)", transform=ax2.transAxes, ha="right", va="center",
         fontsize=13.5)

fig.savefig("out.png", dpi=100)
